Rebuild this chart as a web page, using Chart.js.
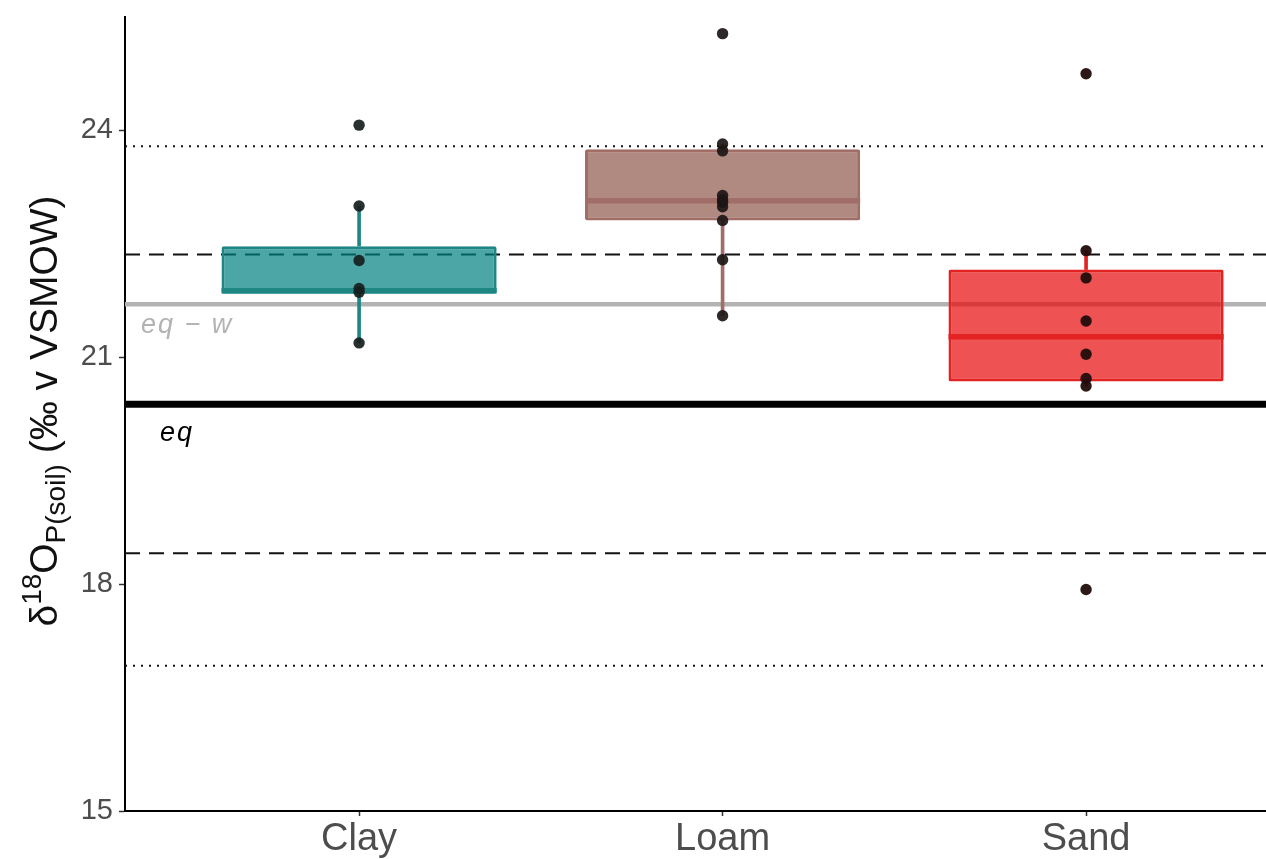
<!DOCTYPE html>
<html>
<head>
<meta charset="utf-8">
<script src="https://cdn.jsdelivr.net/npm/chart.js@4.4.1/dist/chart.umd.min.js"></script>
<style>
  html, body { margin: 0; padding: 0; background: #ffffff; }
  canvas { display: block; }
</style>
</head>
<body>
<canvas id="soilChart" width="1266" height="859"></canvas>
<script>
// Soil texture classes
const soils = ['Clay', 'Loam', 'Sand'];

// Individual δ18O measurements per soil class
const clayPoints = [24.07, 23.00, 22.28, 21.91, 21.86, 21.19];
const loamPoints = [25.28, 23.82, 23.73, 23.14, 23.08, 23.05, 22.99, 22.81, 22.29, 21.55];
const sandPoints = [24.75, 22.41, 22.05, 21.48, 21.04, 20.72, 20.62, 17.93];

// Box-plot statistics per soil class
const whiskerLow  = [21.19, 21.55, 20.62];
const lowerHinge  = [21.84, 22.81, 20.68];
const medians     = [21.88, 23.07, 21.27];
const upperHinge  = [22.47, 23.75, 22.16];
const whiskerHigh = [23.00, 23.82, 22.41];

// Reference levels
const eqLevel      = 20.38;          // equilibrium
const eqWaterLevel = 21.70;          // equilibrium with water
const innerBand    = [18.41, 22.36]; // dashed limits
const outerBand    = [16.92, 23.79]; // dotted limits

const yTicks = [15, 18, 21, 24];

const FONT = '"Liberation Sans", Arial, Helvetica, sans-serif';
const boxFill   = ['rgba(0,128,128,0.70)', 'rgba(142,88,76,0.70)', 'rgba(232,8,8,0.70)'];
const boxLine   = ['#1f8783', '#a06e67', '#e32222'];
const pointCol  = ['rgba(22,30,30,0.92)', 'rgba(28,22,22,0.92)', 'rgba(34,12,12,0.95)'];

const pointSets = [clayPoints, loamPoints, sandPoints];

// Horizontal reference lines and their labels, drawn beneath the boxes
const referenceLines = {
  id: 'referenceLines',
  beforeDatasetsDraw(chart) {
    const { ctx, chartArea: { left, right } } = chart;
    const y = chart.scales.y;
    const hline = (v, color, width, dash) => {
      const py = y.getPixelForValue(v);
      ctx.save();
      ctx.strokeStyle = color;
      ctx.lineWidth = width;
      ctx.setLineDash(dash);
      ctx.beginPath();
      ctx.moveTo(left, py);
      ctx.lineTo(right, py);
      ctx.stroke();
      ctx.restore();
    };
    hline(outerBand[0], '#111', 2, [2, 6]);
    hline(outerBand[1], '#111', 2, [2, 6]);
    hline(innerBand[0], '#111', 2, [15, 9]);
    hline(innerBand[1], '#111', 2, [15, 9]);
    hline(eqWaterLevel, '#b3b3b3', 4.5, []);
    hline(eqLevel, '#000', 7, []);

    ctx.save();
    ctx.font = 'italic 27px ' + FONT;
    ctx.textBaseline = 'alphabetic';
    ctx.textAlign = 'left';
    ctx.letterSpacing = '2px';
    ctx.fillStyle = '#b3b3b3';
    ctx.fillText('eq \u2212 w', left + 16, y.getPixelForValue(eqWaterLevel) + 29);
    ctx.fillStyle = '#000';
    ctx.fillText('eq', left + 35, y.getPixelForValue(eqLevel) + 37);
    ctx.restore();
  }
};

// Median bars across each box
const boxMedians = {
  id: 'boxMedians',
  afterDatasetDraw(chart, args) {
    if (chart.data.datasets[args.index].role !== 'box') return;
    const { ctx } = chart;
    const y = chart.scales.y;
    args.meta.data.forEach((bar, i) => {
      const py = y.getPixelForValue(medians[i]);
      ctx.save();
      ctx.strokeStyle = boxLine[i];
      ctx.lineWidth = 5.5;
      ctx.beginPath();
      ctx.moveTo(bar.x - bar.width / 2, py);
      ctx.lineTo(bar.x + bar.width / 2, py);
      ctx.stroke();
      ctx.restore();
    });
  }
};

// Rotated axis title with superscript and subscript parts
const axisTitle = {
  id: 'axisTitle',
  afterDraw(chart) {
    const { ctx } = chart;
    const runs = [
      { t: '\u03b4', size: 39, dy: 0 },
      { t: '18', size: 28, dy: -16 },
      { t: 'O', size: 39, dy: 0 },
      { t: 'P(soil)', size: 28, dy: 8 },
      { t: ' (\u2030 v VSMOW)', size: 39, dy: 0 }
    ];
    ctx.save();
    let total = 0;
    runs.forEach(r => {
      ctx.font = r.size + 'px ' + FONT;
      r.w = ctx.measureText(r.t).width;
      total += r.w;
    });
    ctx.translate(57, 411);
    ctx.rotate(-Math.PI / 2);
    ctx.fillStyle = '#111';
    ctx.textBaseline = 'alphabetic';
    ctx.textAlign = 'left';
    let x = -total / 2;
    runs.forEach(r => {
      ctx.font = r.size + 'px ' + FONT;
      ctx.fillText(r.t, x, r.dy);
      x += r.w;
    });
    ctx.restore();
  }
};

const datasets = [
  {
    type: 'bar', role: 'whisker', order: 4, grouped: false,
    data: soils.map((s, i) => ({ x: i + 1, y: [whiskerLow[i], lowerHinge[i]] })),
    backgroundColor: boxLine, barThickness: 3
  },
  {
    type: 'bar', role: 'whisker', order: 4, grouped: false,
    data: soils.map((s, i) => ({ x: i + 1, y: [upperHinge[i], whiskerHigh[i]] })),
    backgroundColor: boxLine, barThickness: 3
  },
  {
    type: 'bar', role: 'box', order: 3, grouped: false,
    data: soils.map((s, i) => ({ x: i + 1, y: [lowerHinge[i], upperHinge[i]] })),
    backgroundColor: boxFill, borderColor: boxLine, borderWidth: 3,
    borderSkipped: false, borderRadius: 2,
    barPercentage: 0.757, categoryPercentage: 1
  },
  ...pointSets.map((vals, i) => ({
    type: 'scatter', role: 'points', order: 0, label: soils[i],
    data: vals.map(v => ({ x: i + 1, y: v })),
    pointRadius: 5.7, pointHoverRadius: 5.7, borderWidth: 0,
    backgroundColor: pointCol[i]
  }))
];

// Removes the automatic label overhang padding so the plot area edges stay fixed
const noOverhang = s => { s.paddingTop = 0; s.paddingBottom = 0; s.paddingLeft = 0; s.paddingRight = 0; };

new Chart(document.getElementById('soilChart'), {
  data: { datasets },
  options: {
    responsive: false,
    devicePixelRatio: 1,
    animation: false,
    events: [],
    layout: { autoPadding: false, padding: { top: 17, left: 0, right: 0, bottom: 0 } },
    plugins: { legend: { display: false }, tooltip: { enabled: false } },
    scales: {
      x: {
        type: 'linear', bounds: 'data', offset: false,
        min: 0.356, max: 3.495,
        afterBuildTicks: s => { s.ticks = soils.map((_, i) => ({ value: i + 1 })); },
        afterFit: s => { s.height = 48; noOverhang(s); },
        ticks: {
          callback: v => soils[Math.round(v) - 1],
          font: { family: FONT, size: 38 }, color: '#4d4d4d',
          padding: 1, maxRotation: 0, autoSkip: false
        },
        grid: { display: true, offset: false, drawOnChartArea: false, drawTicks: true, tickLength: 5, tickColor: '#333', tickWidth: 1.5 },
        border: { display: true, color: '#000', width: 2 }
      },
      y: {
        type: 'linear', bounds: 'data',
        min: 15, max: 25.5,
        afterBuildTicks: s => { s.ticks = yTicks.map(v => ({ value: v })); },
        afterFit: s => { s.width = 125; noOverhang(s); },
        ticks: {
          font: { family: FONT, size: 29 }, color: '#4d4d4d', padding: 6
        },
        grid: { display: true, drawOnChartArea: false, drawTicks: true, tickLength: 6, tickColor: '#333', tickWidth: 1.5 },
        border: { display: true, color: '#000', width: 2 }
      }
    }
  },
  plugins: [referenceLines, boxMedians, axisTitle]
});
</script>
</body>
</html>
